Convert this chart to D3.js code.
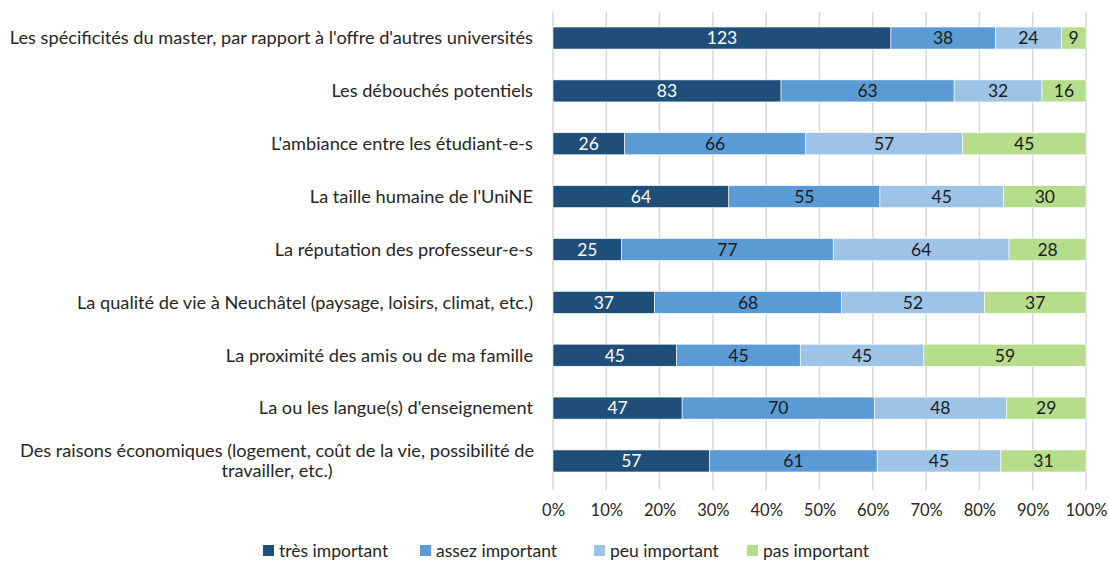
<!DOCTYPE html>
<html>
<head>
<meta charset="utf-8">
<script src="https://cdn.jsdelivr.net/npm/d3@7"></script>
<style>
    body { margin: 0; background: #fff; }
    #chart { width: 1109px; height: 562px; }
    text { font-family: Lato, "Open Sans", sans-serif; }
</style>
</head>
<body>
<div id="chart"></div>
<script>
//Datos
const categories = [
    "Les spécificités du master, par rapport à l'offre d'autres universités",
    "Les débouchés potentiels",
    "L'ambiance entre les étudiant-e-s",
    "La taille humaine de l'UniNE",
    "La réputation des professeur-e-s",
    "La qualité de vie à Neuchâtel (paysage, loisirs, climat, etc.)",
    "La proximité des amis ou de ma famille",
    "La ou les langue(s) d'enseignement",
    "Des raisons économiques (logement, coût de la vie, possibilité de|travailler, etc.)"
];
const series = ['très important', 'assez important', 'peu important', 'pas important'];
const tresImportant  = [123, 83, 26, 64, 25, 37, 45, 47, 57];
const assezImportant = [38, 63, 66, 55, 77, 68, 45, 70, 61];
const peuImportant   = [24, 32, 57, 45, 64, 52, 45, 48, 45];
const pasImportant   = [9, 16, 45, 30, 28, 37, 59, 29, 31];
const tickValues = [0, 0.1, 0.2, 0.3, 0.4, 0.5, 0.6, 0.7, 0.8, 0.9, 1];

//Colores fijos
const COLORS = ['#1F4E79', '#5B9BD5', '#9DC3E6', '#B5DD8B'];
const TEXT_COLORS = ['#ffffff', '#1a1a1a', '#1a1a1a', '#1a1a1a'];

let data = categories.map(function(c, i) {
    return { cat: c, values: [tresImportant[i], assezImportant[i], peuImportant[i], pasImportant[i]] };
});

let margin = {top: 12, right: 23, bottom: 75, left: 553},
    width = 1109 - margin.left - margin.right,
    height = 562 - margin.top - margin.bottom;

let svg = d3.select('#chart')
    .append('svg')
        .attr('width', 1109)
        .attr('height', 562)
    .append('g')
        .attr('transform', 'translate(' + margin.left + ',' + margin.top + ')');

let x = d3.scaleLinear()
    .domain([0, 1])
    .range([0, width]);

let y = d3.scaleBand()
    .domain(categories)
    .range([0, height])
    .paddingInner(0.583)
    .paddingOuter(0.284);

//Eje X con líneas de fondo
let xAxis = function(g) {
    g.call(d3.axisBottom(x).tickValues(tickValues).tickFormat(d3.format('.0%')).tickSize(0).tickPadding(17));
    g.call(function(g){ g.select('.domain').remove(); });
    g.selectAll('.tick text')
        .attr('font-size', '16.5px')
        .attr('fill', '#262626')
        .attr('font-family', 'Lato, sans-serif');
};

svg.append('g')
    .selectAll('line')
    .data(tickValues)
    .enter()
    .append('line')
    .attr('x1', function(d) { return x(d); })
    .attr('x2', function(d) { return x(d); })
    .attr('y1', 0)
    .attr('y2', height + 3)
    .attr('stroke', '#d9d9d9')
    .attr('stroke-width', 1.5);

svg.append('g')
    .attr('transform', 'translate(0,' + height + ')')
    .call(xAxis);

//Etiquetas de categorías
let yLabels = svg.append('g')
    .selectAll('text')
    .data(categories)
    .enter()
    .append('text')
    .attr('x', -20)
    .attr('y', function(d) { return y(d) + y.bandwidth() / 2; })
    .attr('text-anchor', 'end')
    .attr('font-size', '18.2px')
    .attr('fill', '#262626');

yLabels.each(function(d) {
    let lines = d.split('|');
    let t = d3.select(this);
    if (lines.length == 1) {
        t.append('tspan').attr('dy', '0.35em').text(lines[0]);
    } else {
        t.attr('text-anchor', 'middle').attr('x', -20 - 256);
        lines.forEach(function(l, i) {
            t.append('tspan')
                .attr('x', -20 - 256)
                .attr('dy', i == 0 ? '-0.22em' : '1.1em')
                .text(l);
        });
    }
});

//Barras apiladas
let rows = svg.append('g')
    .selectAll('g')
    .data(data)
    .enter()
    .append('g')
    .attr('transform', function(d) { return 'translate(0,' + y(d.cat) + ')'; });

let segs = rows.selectAll('g')
    .data(function(d) {
        let total = d3.sum(d.values), acc = 0;
        return d.values.map(function(v, i) {
            let s = { key: i, value: v, x0: acc / total, x1: (acc + v) / total };
            acc += v;
            return s;
        });
    })
    .enter()
    .append('g');

segs.append('rect')
    .attr('x', function(d) { return x(d.x0); })
    .attr('width', function(d) { return x(d.x1) - x(d.x0); })
    .attr('y', 0)
    .attr('height', y.bandwidth())
    .attr('fill', function(d) { return COLORS[d.key]; })
    .attr('stroke', '#ffffff')
    .attr('stroke-width', 0.6);

segs.append('text')
    .attr('x', function(d) { return (x(d.x0) + x(d.x1)) / 2; })
    .attr('y', y.bandwidth() / 2)
    .attr('dy', '0.36em')
    .attr('text-anchor', 'middle')
    .attr('font-size', '17.5px')
    .attr('fill', function(d) { return TEXT_COLORS[d.key]; })
    .text(function(d) { return d.value; });

//Leyenda
let legendX = [263, 420, 594, 747];
let legend = d3.select('svg').append('g')
    .selectAll('g')
    .data(series)
    .enter()
    .append('g')
    .attr('transform', function(d, i) { return 'translate(' + legendX[i] + ',545)'; });

legend.append('rect')
    .attr('width', 11)
    .attr('height', 11)
    .attr('fill', function(d, i) { return COLORS[i]; });

legend.append('text')
    .attr('x', 16)
    .attr('y', 6)
    .attr('dy', '0.34em')
    .attr('font-size', '17.5px')
    .attr('fill', '#262626')
    .text(function(d) { return d; });
</script>
</body>
</html>
